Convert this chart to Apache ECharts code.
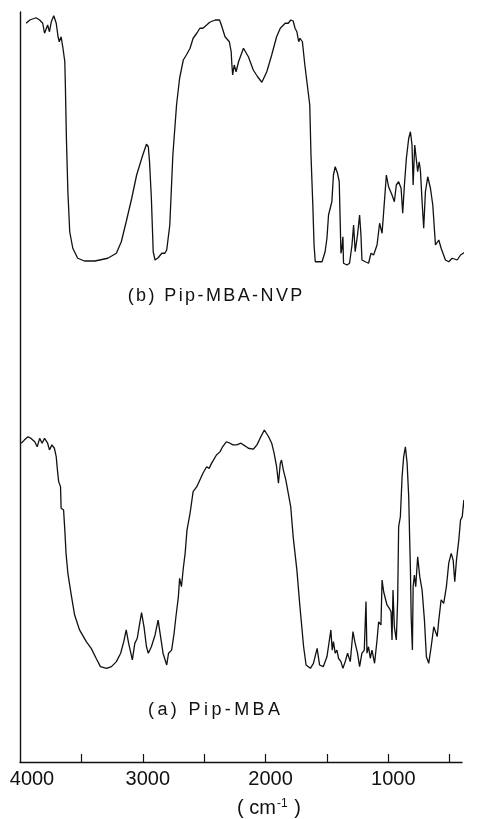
<!DOCTYPE html>
<html>
<head>
<meta charset="utf-8">
<title>IR spectra Pip-MBA</title>
<script src="https://cdn.jsdelivr.net/npm/echarts@6.0.0/dist/echarts.min.js"></script>
<style>
  html, body { margin: 0; padding: 0; background: #fff; }
  #chart { width: 477px; height: 819px; }
</style>
</head>
<body>
<div id="chart"></div>
<script>
// 波数轴刻度
const tickValues = [3500, 3000, 2500, 2000, 1500, 1000, 500]
const labelValues = [4000, 3000, 2000, 1000]

// (b) Pip-MBA-NVP, 波数 / 透过率
const bWave = [3950, 3920, 3870, 3840, 3815, 3800, 3775, 3760, 3745, 3725, 3705, 3690, 3680, 3665, 3650, 3635, 3630, 3622, 3610, 3595,
  3570, 3530, 3475, 3390, 3285, 3215, 3175, 3135, 3090, 3050, 3025, 3000, 2970, 2955, 2945, 2930, 2915, 2900, 2875, 2845,
  2820, 2805, 2780, 2755, 2725, 2700, 2670, 2645, 2615, 2590, 2560, 2535, 2510, 2480, 2455, 2410, 2375, 2360, 2330, 2295,
  2280, 2275, 2268, 2255, 2240, 2220, 2180, 2140, 2100, 2065, 2030, 1990, 1950, 1910, 1880, 1840, 1815, 1795, 1775, 1760,
  1745, 1730, 1720, 1700, 1680, 1660, 1640, 1630, 1615, 1605, 1595, 1540, 1515, 1500, 1487, 1460, 1447, 1433, 1414, 1400,
  1392, 1386, 1378, 1370, 1365, 1337, 1316, 1296, 1283, 1270, 1251, 1234, 1223, 1215, 1188, 1161, 1141, 1120, 1092, 1071,
  1051, 1038, 1016, 998, 970, 951, 935, 916, 896, 883, 869, 853, 834, 820, 807, 798, 785, 771, 761, 749,
  739, 725, 712, 698, 679, 657, 638, 616, 589, 570, 535, 508, 480, 439, 412, 371, 331, 304, 276]
const bTrans = [96.7, 98.0, 98.9, 98.0, 96.7, 92.7, 96.0, 93.3, 97.3, 99.7, 96.7, 91.3, 89.3, 91.3, 86.7, 81.3, 70.7, 50.7, 29.3, 13.3,
  6.7, 2.7, 1.6, 1.6, 2.7, 4.7, 9.3, 17.3, 26.7, 36.0, 40.0, 44.0, 48.3, 47.3, 41.3, 26.7, 5.3, 2.0, 2.9, 4.7,
  4.7, 6.0, 16.0, 44.0, 64.0, 74.7, 82.0, 84.0, 86.7, 90.7, 92.7, 94.7, 94.7, 96.0, 97.1, 98.0, 98.0, 96.0, 91.3, 89.3,
  85.3, 80.7, 76.0, 80.0, 77.3, 81.3, 86.7, 83.3, 78.0, 75.3, 73.1, 77.3, 84.0, 91.3, 94.7, 96.7, 96.7, 98.0, 97.6, 94.7,
  93.3, 89.3, 90.7, 89.3, 80.0, 72.0, 64.0, 44.0, 24.0, 8.0, 1.3, 1.3, 5.3, 10.7, 20.0, 25.3, 36.0, 39.3, 36.7, 33.3,
  17.3, 4.7, 6.7, 11.3, 0.7, 0.0, 0.7, 8.0, 16.0, 5.3, 12.0, 20.0, 12.0, 2.0, 1.3, 0.7, 4.7, 4.0, 8.0, 16.7,
  12.7, 21.3, 36.0, 31.3, 28.0, 25.3, 32.0, 33.3, 30.7, 20.7, 32.0, 42.7, 50.7, 53.3, 48.0, 32.0, 48.0, 48.7, 37.3, 41.3,
  38.0, 25.3, 14.7, 29.3, 35.3, 30.7, 24.0, 8.0, 10.0, 6.7, 2.0, 1.3, 2.7, 2.0, 4.0, 5.3, 8.0, 10.7, 14.7]

// (a) Pip-MBA, 波数 / 透过率
const aWave = [3990, 3965, 3935, 3910, 3880, 3860, 3840, 3820, 3800, 3775, 3760, 3740, 3720, 3705, 3695, 3685, 3670, 3665, 3645, 3635,
  3625, 3610, 3580, 3555, 3515, 3460, 3420, 3380, 3345, 3295, 3255, 3215, 3180, 3155, 3135, 3115, 3085, 3065, 3045, 3030,
  3010, 2990, 2970, 2955, 2930, 2900, 2875, 2855, 2835, 2805, 2790, 2765, 2745, 2730, 2710, 2700, 2685, 2670, 2655, 2640,
  2615, 2590, 2560, 2535, 2510, 2480, 2460, 2440, 2400, 2370, 2350, 2320, 2290, 2265, 2235, 2200, 2165, 2140, 2100, 2070,
  2045, 2010, 1975, 1950, 1930, 1910, 1895, 1880, 1870, 1855, 1835, 1815, 1795, 1775, 1745, 1720, 1690, 1670, 1635, 1610,
  1580, 1560, 1530, 1500, 1480, 1468, 1457, 1447, 1433, 1419, 1406, 1386, 1370, 1351, 1332, 1310, 1288, 1270, 1251, 1234,
  1215, 1196, 1182, 1174, 1161, 1147, 1133, 1112, 1092, 1079, 1060, 1051, 1038, 1024, 1011, 992, 978, 970, 962, 951,
  935, 924, 916, 902, 888, 875, 861, 847, 834, 826, 820, 814, 804, 798, 788, 777, 761, 744, 725, 706,
  690, 671, 651, 630, 602, 589, 570, 549, 527, 508, 488, 472, 459, 445, 426, 412, 398, 385, 377, 366]
const aTrans = [94.5, 95.8, 97.2, 96.5, 95.1, 93.0, 96.5, 94.5, 96.5, 94.5, 91.7, 93.8, 92.4, 88.9, 83.3, 78.5, 76.4, 67.4, 66.7, 58.3,
  48.6, 40.3, 30.5, 22.9, 16.7, 11.8, 9.0, 4.9, 1.4, 0.7, 1.4, 3.5, 7.0, 11.8, 16.7, 11.1, 4.2, 11.1, 13.2, 18.0,
  23.9, 18.0, 9.7, 7.0, 9.7, 14.6, 20.8, 13.9, 7.0, 2.1, 7.0, 8.3, 15.3, 22.2, 30.5, 38.2, 34.7, 42.4, 48.6, 58.3,
  65.3, 74.3, 76.4, 79.2, 82.0, 84.7, 84.0, 86.1, 89.6, 91.0, 93.0, 95.1, 94.5, 93.8, 93.8, 94.5, 93.3, 92.4, 92.0, 93.8,
  96.5, 100.0, 97.2, 94.5, 90.3, 84.7, 77.8, 86.1, 87.5, 83.3, 79.2, 73.6, 68.0, 55.5, 41.7, 26.4, 9.7, 2.1, 0.7, 2.8,
  9.0, 2.1, 1.4, 5.5, 12.5, 16.7, 8.3, 11.8, 7.0, 8.3, 4.9, 3.5, 0.7, 3.5, 7.0, 3.5, 16.0, 11.1, 7.0, 1.4,
  7.0, 8.3, 28.5, 7.0, 9.7, 4.9, 8.3, 2.8, 12.5, 20.1, 18.8, 37.5, 32.6, 32.0, 27.1, 25.7, 24.3, 12.5, 33.3, 18.0,
  12.5, 29.2, 59.7, 63.9, 80.5, 88.9, 93.0, 86.1, 72.2, 54.2, 41.7, 22.2, 8.3, 34.7, 39.6, 34.7, 47.2, 38.9, 33.3, 20.8,
  5.5, 2.8, 9.7, 18.0, 13.9, 20.8, 29.2, 27.8, 34.7, 44.5, 48.6, 45.8, 36.8, 45.8, 54.2, 62.5, 63.9, 70.8, 66.7, 62.5]

const font = 'Liberation Sans, Arial, sans-serif'

// 字间距拉开一点, 用 rich 逐字排
function spaced(str) {
  return str.split('').map(ch => `{c|${ch}}`).join('')
}

const chart = echarts.init(document.getElementById('chart'))

const option = {
  animation: false,
  backgroundColor: '#fff',
  grid: { left: 20, right: 15, top: 12, bottom: 57, outerBoundsMode: 'none' },
  xAxis: {
    type: 'value',
    inverse: true,
    min: 400,
    max: 4000,
    name: '( cm{s|-1} )',
    nameLocation: 'middle',
    nameGap: 36,
    nameTextStyle: {
      color: '#111', fontFamily: font, fontSize: 20, padding: [0, 0, 0, 56],
      rich: { s: { fontSize: 12, fontFamily: font, color: '#111', verticalAlign: 'top', padding: [0, 1, 0, 1] } }
    },
    axisLine: { onZero: false, lineStyle: { color: '#111', width: 1.4 } },
    axisTick: { inside: true, length: 8, customValues: tickValues, lineStyle: { color: '#111', width: 1.2 } },
    axisLabel: {
      customValues: labelValues,
      margin: 7,
      color: '#111',
      fontFamily: font,
      fontSize: 20,
      formatter: v => v === 4000 ? `{f|${v}}` : `{n|${v}}`,
      rich: {
        f: { fontSize: 20, fontFamily: font, color: '#111', padding: [0, 0, 0, 24] },
        n: { fontSize: 20, fontFamily: font, color: '#111', padding: [0, 0, 0, 10] }
      }
    },
    splitLine: { show: false }
  },
  yAxis: [
    {
      type: 'value', min: -38.33, max: 274.17, position: 'left',
      axisLine: { show: true, onZero: false, lineStyle: { color: '#111', width: 1.4 } },
      axisTick: { show: false }, axisLabel: { show: false }, splitLine: { show: false }
    },
    {
      type: 'value', min: -198.8, max: 101.2, show: false, splitLine: { show: false }
    }
  ],
  series: [
    {
      name: '(a) Pip-MBA',
      type: 'line',
      yAxisIndex: 0,
      data: aWave.map((w, i) => [w, aTrans[i]]),
      showSymbol: false,
      clip: false,
      lineStyle: { color: '#111', width: 1.3 }
    },
    {
      name: '(b) Pip-MBA-NVP',
      type: 'line',
      yAxisIndex: 1,
      data: bWave.map((w, i) => [w, bTrans[i]]),
      showSymbol: false,
      clip: false,
      lineStyle: { color: '#111', width: 1.3 }
    }
  ],
  graphic: [
    {
      type: 'text', x: 215, y: 296,
      style: {
        text: spaced('(b) Pip-MBA-NVP'), align: 'center', verticalAlign: 'middle',
        rich: { c: { fontSize: 18, fontFamily: font, fill: '#111', padding: [0, 1.2] } }
      }
    },
    {
      type: 'text', x: 214, y: 710,
      style: {
        text: spaced('(a) Pip-MBA'), align: 'center', verticalAlign: 'middle',
        rich: { c: { fontSize: 18, fontFamily: font, fill: '#111', padding: [0, 1.7] } }
      }
    }
  ]
}

chart.setOption(option)
</script>
</body>
</html>
